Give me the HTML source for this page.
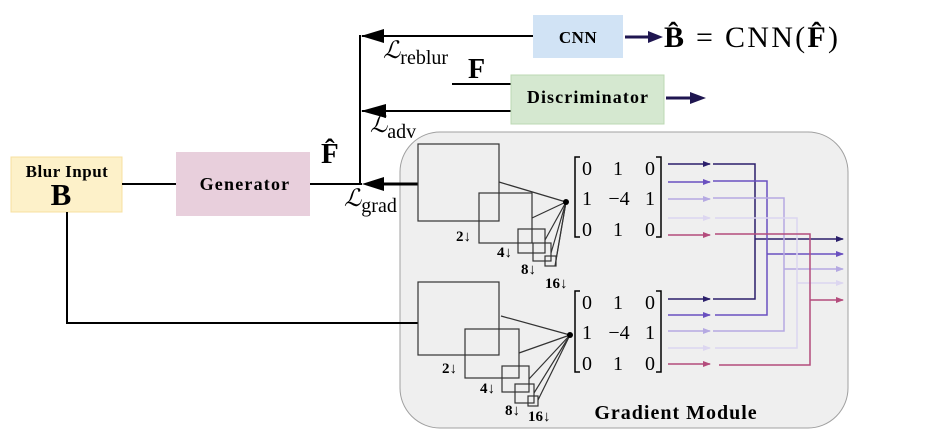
<!DOCTYPE html>
<html><head><meta charset="utf-8"><style>
html,body{margin:0;padding:0;background:#fff;width:925px;height:445px;overflow:hidden}
svg{display:block}
text{font-family:"Liberation Serif",serif}
</style></head><body>
<svg width="925" height="445" viewBox="0 0 925 445" xmlns="http://www.w3.org/2000/svg">
<defs>
<marker id="a1" markerWidth="8" markerHeight="6" refX="7" refY="3" orient="auto" markerUnits="userSpaceOnUse"><path d="M0,0L8,3L0,6z" fill="#2b1f6b"/></marker>
<marker id="a2" markerWidth="8" markerHeight="6" refX="7" refY="3" orient="auto" markerUnits="userSpaceOnUse"><path d="M0,0L8,3L0,6z" fill="#6a50c0"/></marker>
<marker id="a3" markerWidth="8" markerHeight="6" refX="7" refY="3" orient="auto" markerUnits="userSpaceOnUse"><path d="M0,0L8,3L0,6z" fill="#b5a9e2"/></marker>
<marker id="a4" markerWidth="8" markerHeight="6" refX="7" refY="3" orient="auto" markerUnits="userSpaceOnUse"><path d="M0,0L8,3L0,6z" fill="#dcd6f0"/></marker>
<marker id="a5" markerWidth="8" markerHeight="6" refX="7" refY="3" orient="auto" markerUnits="userSpaceOnUse"><path d="M0,0L8,3L0,6z" fill="#b44c7c"/></marker>
</defs>

<rect x="400" y="132" width="448" height="296" rx="40" fill="#efefef" stroke="#a0a0a0" stroke-width="1"/>

<rect x="11" y="157" width="111" height="55" fill="#fdf1c9" stroke="#f7e0a0"/>
<text x="67" y="177" font-size="17" font-weight="bold" text-anchor="middle" letter-spacing="0.5">Blur  Input</text>
<text x="61" y="205" font-size="31" font-weight="bold" text-anchor="middle">B</text>

<rect x="176" y="152" width="134" height="64" fill="#e8cfdc"/>
<text x="245" y="190" font-size="18" font-weight="bold" text-anchor="middle" letter-spacing="1.2">Generator</text>

<g stroke="#000" stroke-width="2" fill="none">
<line x1="122" y1="184" x2="176" y2="184"/>
<line x1="310" y1="184" x2="362" y2="184"/>
<line x1="360" y1="35" x2="360" y2="185"/>
<line x1="362" y1="36" x2="533" y2="36"/>
<line x1="362" y1="111" x2="511" y2="111"/>
<line x1="452" y1="84" x2="511" y2="84"/>
<line x1="67" y1="212" x2="67" y2="323"/>
<line x1="66" y1="323" x2="418" y2="323"/>
</g>
<line x1="375" y1="184" x2="418" y2="184" stroke="#000" stroke-width="3"/>
<path d="M361,36L384,29L384,43z" fill="#000"/>
<path d="M361,111L386,104L386,118z" fill="#000"/>
<path d="M362,184L384,177L384,191z" fill="#000"/>

<rect x="533" y="15" width="90" height="43" fill="#d1e3f5"/>
<text x="578" y="43" font-size="17" font-weight="bold" text-anchor="middle" letter-spacing="0.5">CNN</text>
<line x1="625" y1="37" x2="652" y2="37" stroke="#1f1650" stroke-width="3"/>
<path d="M648,31L663,37L648,43z" fill="#1f1650"/>
<text x="664" y="47" font-size="30" textLength="174"><tspan font-weight="bold">B̂</tspan> = CNN(<tspan font-weight="bold">F̂</tspan>)</text>

<rect x="511" y="75" width="153" height="49" fill="#d5e8d0" stroke="#bcd8b3"/>
<text x="588" y="103" font-size="18" font-weight="bold" text-anchor="middle" letter-spacing="1.1">Discriminator</text>
<line x1="666" y1="98" x2="695" y2="98" stroke="#1f1650" stroke-width="3"/>
<path d="M690,92L706,98L690,104z" fill="#1f1650"/>

<text x="383" y="58" font-size="24" font-style="italic">ℒ<tspan font-size="20" font-style="normal" dy="6">reblur</tspan></text>
<text x="468" y="78" font-size="28" font-weight="bold">F</text>
<text x="370" y="132" font-size="24" font-style="italic">ℒ<tspan font-size="20" font-style="normal" dy="6">adv</tspan></text>
<text x="344" y="206" font-size="24" font-style="italic">ℒ<tspan font-size="20" font-style="normal" dy="6">grad</tspan></text>
<text x="321" y="163" font-size="29" font-weight="bold">F̂</text>

<g stroke="#333" stroke-width="1.2" fill="none">
<rect x="418" y="144" width="81" height="77"/>
<rect x="479" y="193" width="53" height="50"/>
<rect x="518" y="229" width="27" height="24"/>
<rect x="533" y="243" width="18" height="18"/>
<rect x="545" y="256" width="11" height="10"/>
<line x1="499" y1="182" x2="566" y2="202"/>
<line x1="532" y1="218" x2="566" y2="202"/>
<line x1="545" y1="240" x2="566" y2="202"/>
<line x1="551" y1="253" x2="566" y2="202"/>
<line x1="556" y1="260" x2="566" y2="202"/>
<line x1="555" y1="266" x2="566" y2="202"/>
<rect x="418" y="282" width="81" height="73"/>
<rect x="465" y="329" width="54" height="49"/>
<rect x="502" y="366" width="27" height="26"/>
<rect x="515" y="384" width="19" height="19"/>
<rect x="528" y="396" width="10" height="10"/>
<line x1="501" y1="316" x2="570" y2="335"/>
<line x1="519" y1="353" x2="570" y2="335"/>
<line x1="529" y1="379" x2="570" y2="335"/>
<line x1="534" y1="393" x2="570" y2="335"/>
<line x1="538" y1="400" x2="570" y2="335"/>
</g>
<circle cx="566" cy="202" r="3" fill="#000"/>
<circle cx="570" cy="335" r="3" fill="#000"/>
<g font-size="15" font-weight="bold">
<text x="456" y="241">2<tspan font-weight="normal">↓</tspan></text>
<text x="497" y="257">4<tspan font-weight="normal">↓</tspan></text>
<text x="521" y="274">8<tspan font-weight="normal">↓</tspan></text>
<text x="545" y="288">16<tspan font-weight="normal">↓</tspan></text>
<text x="442" y="373">2<tspan font-weight="normal">↓</tspan></text>
<text x="480" y="393">4<tspan font-weight="normal">↓</tspan></text>
<text x="505" y="415">8<tspan font-weight="normal">↓</tspan></text>
<text x="528" y="421">16<tspan font-weight="normal">↓</tspan></text>
</g>

<g stroke="#000" stroke-width="1.5" fill="none">
<path d="M580,157H575V237H580"/>
<path d="M656,157H661V237H656"/>
<path d="M580,291H575V372H580"/>
<path d="M656,291H661V372H656"/>
</g>
<g font-size="20" text-anchor="middle">
<text x="587" y="175">0</text><text x="618" y="175">1</text><text x="650" y="175">0</text>
<text x="587" y="205">1</text><text x="619" y="205">−4</text><text x="650" y="205">1</text>
<text x="587" y="236">0</text><text x="618" y="236">1</text><text x="650" y="236">0</text>
<text x="587" y="309">0</text><text x="618" y="309">1</text><text x="650" y="309">0</text>
<text x="587" y="339">1</text><text x="619" y="339">−4</text><text x="650" y="339">1</text>
<text x="587" y="370">0</text><text x="618" y="370">1</text><text x="650" y="370">0</text>
</g>

<g fill="none" stroke-width="1.5">
<g stroke="#2b1f6b">
<line x1="668" y1="164" x2="710" y2="164" marker-end="url(#a1)"/>
<line x1="668" y1="299" x2="710" y2="299" marker-end="url(#a1)"/>
<path d="M713,164H755V299H713"/>
<line x1="755" y1="239" x2="843" y2="239" marker-end="url(#a1)"/>
</g>
<g stroke="#6a50c0">
<line x1="668" y1="182" x2="710" y2="182" marker-end="url(#a2)"/>
<line x1="668" y1="315" x2="710" y2="315" marker-end="url(#a2)"/>
<path d="M713,181H767V315H715"/>
<line x1="767" y1="254" x2="843" y2="254" marker-end="url(#a2)"/>
</g>
<g stroke="#b5a9e2">
<line x1="668" y1="199" x2="710" y2="199" marker-end="url(#a3)"/>
<line x1="668" y1="331" x2="710" y2="331" marker-end="url(#a3)"/>
<path d="M713,198H784V331H713"/>
<line x1="784" y1="269" x2="843" y2="269" marker-end="url(#a3)"/>
</g>
<g stroke="#dcd6f0">
<line x1="668" y1="218" x2="710" y2="218" marker-end="url(#a4)"/>
<line x1="668" y1="348" x2="710" y2="348" marker-end="url(#a4)"/>
<path d="M715,218H797V348H715"/>
<line x1="797" y1="283" x2="843" y2="283" marker-end="url(#a4)"/>
</g>
<g stroke="#b44c7c">
<line x1="668" y1="235" x2="710" y2="235" marker-end="url(#a5)"/>
<line x1="668" y1="364" x2="710" y2="364" marker-end="url(#a5)"/>
<path d="M715,234H810V365H719"/>
<line x1="810" y1="300" x2="843" y2="300" marker-end="url(#a5)"/>
</g>
</g>

<text x="676" y="419" font-size="20" font-weight="bold" text-anchor="middle" letter-spacing="1">Gradient Module</text>
</svg>
</body></html>
